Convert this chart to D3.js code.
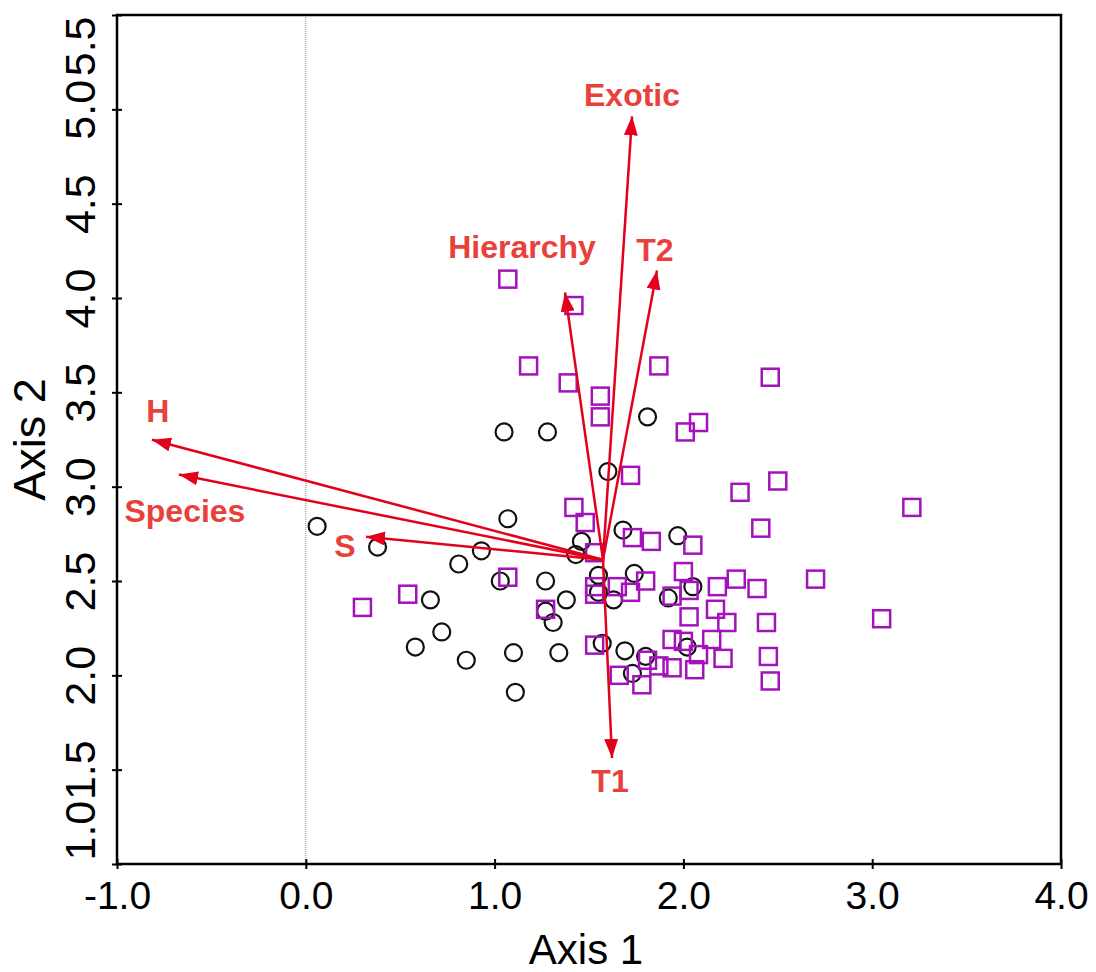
<!DOCTYPE html>
<html>
<head>
<meta charset="utf-8">
<script src="https://cdn.jsdelivr.net/npm/d3@7/dist/d3.min.js"></script>
<style>
  body { margin: 0; background: #fff; }
  svg text { font-family: Arial, "Liberation Sans", sans-serif; }
</style>
</head>
<body>
<div class="chart"></div>
<script>
var width = 1096, height = 972;

// group 1 sites (black circles): Axis 1, Axis 2
var circle_x = [0.06, 0.38, 0.66, 0.72, 0.58, 0.81, 0.85, 0.93, 1.05, 1.28, 1.07, 1.03,
  1.10, 1.11, 1.27, 1.27, 1.31, 1.34, 1.38, 1.43, 1.46, 1.60, 1.81, 1.55, 1.55, 1.57,
  1.63, 1.68, 1.74, 1.69, 1.73, 1.80, 1.92, 1.97, 2.05, 2.02];
var circle_y = [2.79, 2.68, 2.40, 2.23, 2.15, 2.59, 2.08, 2.66, 3.29, 3.29, 2.83, 2.50,
  2.12, 1.91, 2.50, 2.34, 2.28, 2.12, 2.40, 2.64, 2.71, 3.08, 3.37, 2.53, 2.44, 2.17,
  2.40, 2.77, 2.54, 2.13, 2.01, 2.10, 2.41, 2.74, 2.47, 2.15];

// group 2 sites (purple squares)
var square_x = [0.30, 0.54, 1.07, 1.27, 1.07, 1.42, 1.18, 1.39, 1.56, 1.56, 1.87, 2.46,
  2.01, 2.08, 1.72, 2.30, 2.50, 3.21, 2.41, 2.70, 3.05, 1.42, 1.48, 1.53, 1.73, 1.83,
  2.05, 2.00, 1.80, 1.65, 1.53, 1.53, 1.72, 2.03, 1.94, 2.18, 2.28, 2.39, 2.03, 2.17,
  2.23, 2.44, 1.53, 2.15, 1.94, 2.00, 2.08, 2.21, 2.45, 2.46, 1.66, 1.78, 1.81, 1.87,
  1.94, 2.06];
var square_y = [2.36, 2.43, 2.52, 2.35, 4.10, 3.96, 3.64, 3.55, 3.48, 3.37, 3.64, 3.58,
  3.29, 3.34, 3.06, 2.97, 3.03, 2.89, 2.78, 2.51, 2.30, 2.89, 2.81, 2.65, 2.73, 2.71,
  2.69, 2.55, 2.50, 2.47, 2.47, 2.43, 2.44, 2.45, 2.42, 2.47, 2.51, 2.46, 2.31, 2.35,
  2.28, 2.28, 2.16, 2.19, 2.19, 2.18, 2.11, 2.09, 2.10, 1.97, 2.00, 1.95, 2.08, 2.05,
  2.04, 2.03];

// joint plot vectors
var vector_origin = [1.574, 2.613];
var vector_names = ["Exotic", "T2", "Hierarchy", "H", "Species", "S", "T1"];
var vector_x = [1.728, 1.860, 1.373, -0.815, -0.672, 0.319, 1.622];
var vector_y = [4.963, 4.146, 4.029, 3.249, 3.064, 2.735, 1.562];

var x_ticks = [-1.0, 0.0, 1.0, 2.0, 3.0, 4.0];
var y_ticks = [1.0, 1.5, 2.0, 2.5, 3.0, 3.5, 4.0, 4.5, 5.0, 5.5];

var margin = {top: 15, right: 35, bottom: 108, left: 117};

var x = d3.scaleLinear()
    .domain([-1, 4])
    .range([margin.left, width - margin.right]);

var y = d3.scaleLinear()
    .domain([1, 5.5])
    .range([height - margin.bottom, margin.top]);

var svg = d3.select(".chart").append("svg")
    .attr("width", width)
    .attr("height", height);

var arrow_color = "#e3001b",
  label_color = "#e8413c",
  purple = "#a312bb";

svg.append("defs").append("marker")
    .attr("id", "head")
    .attr("viewBox", "0 -7 19 14")
    .attr("refX", 19)
    .attr("refY", 0)
    .attr("markerUnits", "userSpaceOnUse")
    .attr("markerWidth", 19)
    .attr("markerHeight", 14)
    .attr("orient", "auto")
  .append("path")
    .attr("d", "M0,-7L19,0L0,7Z")
    .attr("fill", arrow_color);

// dotted zero line
svg.append("line")
    .attr("x1", x(0)).attr("x2", x(0))
    .attr("y1", y(5.5)).attr("y2", y(1))
    .attr("stroke", "#888")
    .attr("stroke-width", 1)
    .attr("stroke-dasharray", "1,1");

// axes
var xAxis = svg.append("g")
    .attr("transform", "translate(0," + y(1) + ")")
    .call(d3.axisBottom(x).tickValues(x_ticks).tickSize(5).tickPadding(12)
      .tickFormat(function(d){ return d.toFixed(1); }));

xAxis.select(".domain").remove();
xAxis.selectAll(".tick line").attr("y1", -5).attr("stroke-width", 2);
xAxis.selectAll(".tick text")
    .attr("font-size", 39)
    .attr("fill", "#000")
    .attr("dy", "0.72em");

var yAxis = svg.append("g")
    .attr("transform", "translate(" + x(-1) + ",0)")
    .call(d3.axisLeft(y).tickValues(y_ticks).tickSize(5)
      .tickFormat(function(d){ return d.toFixed(1); }));

yAxis.select(".domain").remove();
yAxis.selectAll(".tick line").attr("x1", 5).attr("stroke-width", 2);

// end labels are pulled inside the axis range, like the original software
yAxis.selectAll(".tick text")
    .attr("font-size", 43)
    .attr("fill", "#000")
    .attr("x", null)
    .attr("dy", null)
    .attr("transform", "translate(-22,0) rotate(-90)")
    .style("text-anchor", function(d, i){
      if (i == 0) return "start";
      if (i == y_ticks.length - 1) return "end";
      return "middle";
    })
    .attr("dx", function(d, i){
      if (i == 0) return 4;
      if (i == y_ticks.length - 1) return -1;
      return 0;
    });

// frame
svg.append("rect")
    .attr("x", x(-1))
    .attr("y", y(5.5))
    .attr("width", x(4) - x(-1))
    .attr("height", y(1) - y(5.5))
    .attr("fill", "none")
    .attr("stroke", "#000")
    .attr("stroke-width", 2.5);

// axis titles
svg.append("text")
    .attr("x", (x(-1) + x(4)) / 2 - 3)
    .attr("y", 964)
    .attr("text-anchor", "middle")
    .attr("font-size", 42)
    .text("Axis 1");

svg.append("text")
    .attr("transform", "translate(45," + (y(1) + y(5.5)) / 2 + ") rotate(-90)")
    .attr("text-anchor", "middle")
    .attr("font-size", 45)
    .text("Axis 2");

// sites
var circles = circle_x.map(function(d, i){ return {x: d, y: circle_y[i]}; });
var squares = square_x.map(function(d, i){ return {x: d, y: square_y[i]}; });

svg.selectAll(".site-circle")
    .data(circles)
  .enter().append("circle")
    .attr("class", "site-circle")
    .attr("cx", function(d){ return x(d.x); })
    .attr("cy", function(d){ return y(d.y); })
    .attr("r", 8.5)
    .attr("fill", "none")
    .attr("stroke", "#111")
    .attr("stroke-width", 2.2);

var sq = 17;
svg.selectAll(".site-square")
    .data(squares)
  .enter().append("rect")
    .attr("class", "site-square")
    .attr("x", function(d){ return x(d.x) - sq / 2; })
    .attr("y", function(d){ return y(d.y) - sq / 2; })
    .attr("width", sq)
    .attr("height", sq)
    .attr("fill", "none")
    .attr("stroke", purple)
    .attr("stroke-width", 2.5);

// vectors
var vectors = vector_names.map(function(name, i){
  return {name: name, x: vector_x[i], y: vector_y[i]};
});

// label placement relative to the arrow tip, in pixels
var label_offset = {
  "Exotic": [0, -10],
  "T2": [-2, -9],
  "Hierarchy": [-43, -35],
  "H": [6, -18],
  "Species": [6, 47],
  "S": [-21, 20],
  "T1": [-2, 34]
};

svg.selectAll(".vector")
    .data(vectors)
  .enter().append("line")
    .attr("class", "vector")
    .attr("x1", x(vector_origin[0]))
    .attr("y1", y(vector_origin[1]))
    .attr("x2", function(d){ return x(d.x); })
    .attr("y2", function(d){ return y(d.y); })
    .attr("stroke", arrow_color)
    .attr("stroke-width", 2.5)
    .attr("marker-end", "url(#head)");

svg.selectAll(".vector-label")
    .data(vectors)
  .enter().append("text")
    .attr("class", "vector-label")
    .attr("x", function(d){ return x(d.x) + label_offset[d.name][0]; })
    .attr("y", function(d){ return y(d.y) + label_offset[d.name][1]; })
    .attr("text-anchor", "middle")
    .attr("font-size", 32)
    .attr("font-weight", "bold")
    .attr("fill", label_color)
    .text(function(d){ return d.name; });
</script>
</body>
</html>
